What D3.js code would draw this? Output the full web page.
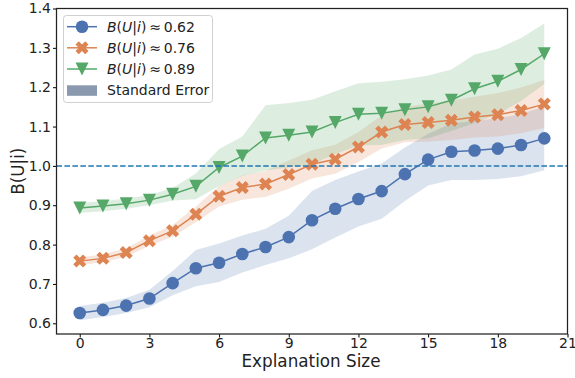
<!DOCTYPE html>
<html>
<head>
<meta charset="utf-8">
<script src="https://cdn.jsdelivr.net/npm/d3@7"></script>
<style>
  html, body { margin: 0; padding: 0; background: #fff; }
  svg { display: block; font-family: "DejaVu Sans", sans-serif; }
</style>
</head>
<body>
<svg id="chart" width="575" height="378"></svg>
<script>
// ---- data ----
const sizes = d3.range(0, 21);
const seriesNames = ["0.62", "0.76", "0.89"];
const blueValues = [0.626, 0.634, 0.645, 0.663, 0.702, 0.740, 0.754, 0.776, 0.794, 0.819, 0.862,
                    0.891, 0.916, 0.936, 0.979, 1.016, 1.036, 1.039, 1.044, 1.053, 1.070];
const blueSE = [0.018, 0.018, 0.019, 0.022, 0.031, 0.046, 0.049, 0.047, 0.046, 0.054, 0.074,
                0.073, 0.070, 0.070, 0.068, 0.066, 0.072, 0.075, 0.077, 0.079, 0.081];
const orangeValues = [0.758, 0.765, 0.780, 0.810, 0.835, 0.877, 0.923, 0.945, 0.954, 0.978, 1.004,
                      1.017, 1.048, 1.086, 1.105, 1.110, 1.116, 1.124, 1.130, 1.141, 1.157];
const orangeSE = [0.010, 0.010, 0.011, 0.013, 0.015, 0.020, 0.026, 0.031, 0.033, 0.036, 0.036,
                  0.037, 0.038, 0.042, 0.045, 0.048, 0.050, 0.052, 0.055, 0.058, 0.061];
const greenValues = [0.893, 0.898, 0.904, 0.913, 0.928, 0.948, 0.996, 1.025, 1.071, 1.078, 1.086,
                     1.110, 1.131, 1.134, 1.143, 1.150, 1.167, 1.196, 1.215, 1.245, 1.285];
const greenSE = [0.013, 0.013, 0.013, 0.013, 0.016, 0.033, 0.047, 0.050, 0.083, 0.082, 0.082,
                 0.080, 0.079, 0.080, 0.077, 0.080, 0.078, 0.087, 0.083, 0.080, 0.077];
const xTicks = [0, 3, 6, 9, 12, 15, 18, 21];
const yTicks = [0.6, 0.7, 0.8, 0.9, 1.0, 1.1, 1.2, 1.3, 1.4];
const refLine = 1.0;

const series = [
  { name: seriesNames[0], values: blueValues, se: blueSE, color: "#4c72b0", marker: "circle" },
  { name: seriesNames[1], values: orangeValues, se: orangeSE, color: "#dd8452", marker: "x" },
  { name: seriesNames[2], values: greenValues, se: greenSE, color: "#55a868", marker: "tri" }
];

// ---- layout ----
const svg = d3.select("#chart");
const L = 56.5, R = 567.5, T = 8.5, B = 334;
const x = d3.scaleLinear().domain([-1, 21]).range([L, R]);
const y = d3.scaleLinear().domain([0.5728, 1.4]).range([B, T]);

const MS = 13; // marker size
function markerPath(kind) {
  const r = MS / 2;
  if (kind === "x") {
    const pts = [[-1,-2],[0,-1],[1,-2],[2,-1],[1,0],[2,1],[1,2],[0,1],[-1,2],[-2,1],[-1,0],[-2,-1]]
      .map(p => [p[0] * MS / 4, p[1] * MS / 4]);
    return "M" + pts.map(p => p.join(",")).join("L") + "Z";
  }
  // triangle pointing down
  return `M0,${r}L${-r},${-r}L${r},${-r}Z`;
}
function drawMarker(g, kind, cx, cy, color) {
  if (kind === "circle") {
    g.append("circle").attr("cx", cx).attr("cy", cy).attr("r", MS / 2 - 0.2).attr("fill", color);
  } else {
    g.append("path").attr("d", markerPath(kind)).attr("transform", `translate(${cx},${cy})`)
      .attr("fill", color);
  }
}

const plot = svg.append("g");

// bands
series.forEach(s => {
  const area = d3.area()
    .x((d, i) => x(sizes[i]))
    .y0((d, i) => y(s.values[i] - s.se[i]))
    .y1((d, i) => y(s.values[i] + s.se[i]));
  plot.append("path").datum(s.values).attr("d", area)
    .attr("fill", s.color).attr("fill-opacity", 0.2).attr("stroke", "none");
});

// lines and markers
series.forEach(s => {
  const line = d3.line().x((d, i) => x(sizes[i])).y(d => y(d));
  plot.append("path").datum(s.values).attr("d", line)
    .attr("fill", "none").attr("stroke", s.color).attr("stroke-width", 1.5);
  const mg = plot.append("g");
  s.values.forEach((v, i) => drawMarker(mg, s.marker, x(sizes[i]), y(v), s.color));
});

// reference line
plot.append("line")
  .attr("x1", L).attr("x2", R).attr("y1", y(refLine)).attr("y2", y(refLine))
  .attr("stroke", "#1f77b4").attr("stroke-width", 1.5).attr("stroke-dasharray", "5.55,2.4");

// axes
const xAxis = d3.axisBottom(x).tickValues(xTicks).tickFormat(d3.format("d")).tickSize(3.5).tickPadding(0.5);
const yAxis = d3.axisLeft(y).tickValues(yTicks).tickFormat(d3.format(".1f")).tickSize(3.5).tickPadding(2);
const gx = svg.append("g").attr("transform", `translate(0,${B})`).call(xAxis);
const gy = svg.append("g").attr("transform", `translate(${L},0)`).call(yAxis);
[gx, gy].forEach(g => {
  g.select(".domain").remove();
  g.selectAll(".tick line").attr("stroke", "#000").attr("stroke-width", 1);
  g.selectAll(".tick text").attr("fill", "#222").style("font-size", "14px")
    .style("font-family", "DejaVu Sans, sans-serif");
});

// spines
svg.append("rect").attr("x", L).attr("y", T).attr("width", R - L).attr("height", B - T)
  .attr("fill", "none").attr("stroke", "#222").attr("stroke-width", 1.25);

// axis labels
svg.append("text").attr("x", 311).attr("y", 367.3).attr("text-anchor", "middle")
  .style("font-size", "16.8px").attr("fill", "#222").text("Explanation Size");
svg.append("text").attr("transform", `translate(23.5,${(T + B) / 2}) rotate(-90)`)
  .attr("text-anchor", "middle").style("font-size", "16.8px").attr("fill", "#222").text("B(U|i)");

// legend
const lg = svg.append("g");
lg.append("rect").attr("x", 63.5).attr("y", 15.5).attr("width", 149).attr("height", 87)
  .attr("rx", 3).attr("fill", "#fff").attr("fill-opacity", 0.85)
  .attr("stroke", "#d0d0d0").attr("stroke-width", 1);
const rowY = [26.7, 47.8, 69.0, 90.3];
series.forEach((s, k) => {
  const yy = rowY[k];
  lg.append("line").attr("x1", 67).attr("x2", 97).attr("y1", yy).attr("y2", yy)
    .attr("stroke", s.color).attr("stroke-width", 1.5);
  drawMarker(lg, s.marker, 82, yy, s.color);
  const t = lg.append("text").attr("x", 107).attr("y", yy + 5).style("font-size", "14px").attr("fill", "#222");
  t.append("tspan").style("font-style", "italic").text("B");
  t.append("tspan").text("(");
  t.append("tspan").style("font-style", "italic").text("U");
  t.append("tspan").text("|");
  t.append("tspan").style("font-style", "italic").text("i");
  t.append("tspan").text(")\u2009\u2248\u20090." + s.name.split(".")[1]);
});
lg.append("rect").attr("x", 67).attr("y", rowY[3] - 5).attr("width", 30).attr("height", 10.5)
  .attr("fill", "#8a99ad");
lg.append("text").attr("x", 107).attr("y", rowY[3] + 5).style("font-size", "14px").attr("fill", "#222")
  .text("Standard Error");
</script>
</body>
</html>
